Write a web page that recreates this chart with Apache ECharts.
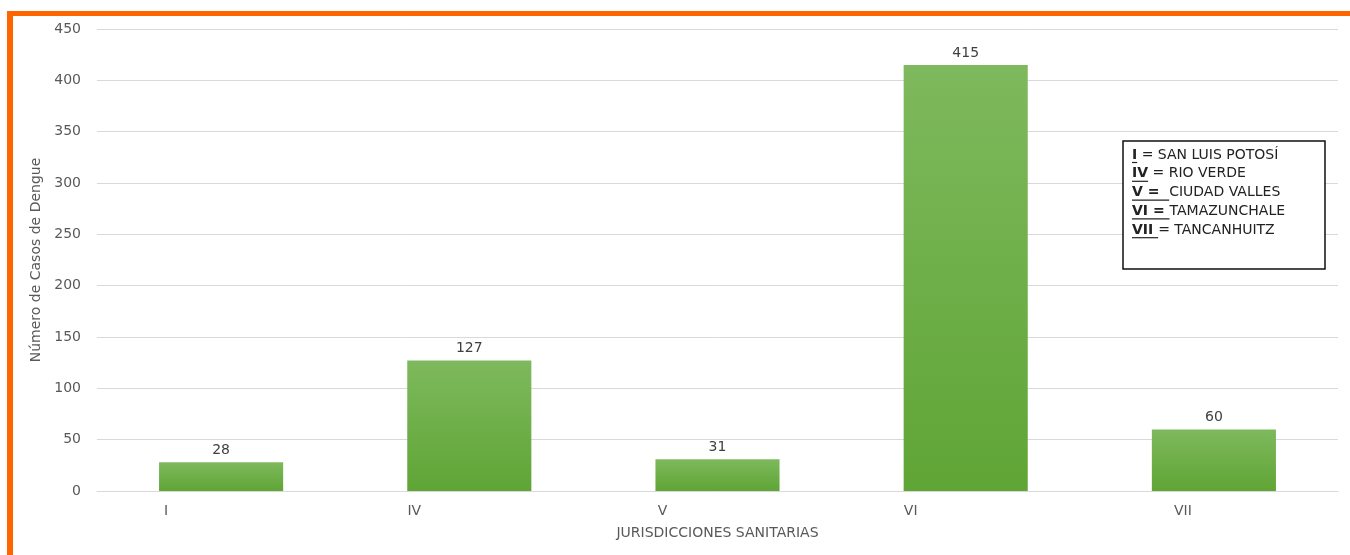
<!DOCTYPE html>
<html>
<head>
<meta charset="utf-8">
<script src="https://cdn.jsdelivr.net/npm/echarts@6/dist/echarts.min.js"></script>
<style>
  html, body { margin: 0; padding: 0; background: #ffffff; }
  #chart { width: 1350px; height: 555px; }
</style>
</head>
<body>
<div id="chart"></div>
<script>
// Jurisdicciones sanitarias and confirmed dengue cases
const jurisdicciones = ['I', 'IV', 'V', 'VI', 'VII'];
const casos = [28, 127, 31, 415, 60];
const yTicks = { min: 0, max: 450, interval: 50 };

// Key: underlined prefix + rest of the line
const claves = [
  ['I', ' = SAN LUIS POTOSÍ'],
  ['IV', ' = RIO VERDE'],
  ['V =  ', 'CIUDAD VALLES'],
  ['VI = ', 'TAMAZUNCHALE'],
  ['VII ', '= TANCANHUITZ']
];

const FONT = '"DejaVu Sans", "Liberation Sans", Arial, sans-serif';
const TXT = '#595959';
const FS = 14;

const chart = echarts.init(document.getElementById('chart'), null, { renderer: 'canvas' });

// measure text widths to place the underlines of the key
const mctx = document.createElement('canvas').getContext('2d');
function textWidth(str, weight) {
  mctx.font = (weight || 'normal') + ' ' + FS + 'px ' + FONT;
  return mctx.measureText(str).width;
}

const keyX = 1132;
const keyY0 = 155;
const keyStep = 18.8;
const keyElements = [{
  type: 'rect',
  shape: { x: 1123, y: 141, width: 202, height: 128 },
  style: { fill: '#ffffff', stroke: '#111111', lineWidth: 1.5 },
  z: 10
}];
claves.forEach(function (c, i) {
  const y = keyY0 + i * keyStep;
  const w1 = textWidth(c[0], 'bold');
  keyElements.push({
    type: 'text', x: keyX, y: y, z: 11,
    style: { text: c[0], font: 'bold ' + FS + 'px ' + FONT, fill: '#222222', textVerticalAlign: 'middle' }
  });
  keyElements.push({
    type: 'text', x: keyX + w1, y: y, z: 11,
    style: { text: c[1], font: FS + 'px ' + FONT, fill: '#222222', textVerticalAlign: 'middle' }
  });
  keyElements.push({
    type: 'line', z: 11,
    shape: { x1: keyX, y1: y + 7.5, x2: keyX + w1, y2: y + 7.5 },
    style: { stroke: '#222222', lineWidth: 1.2 }
  });
});

const option = {
  backgroundColor: '#ffffff',
  animation: false,
  grid: { left: 97, right: 12, top: 29, bottom: 64 },
  xAxis: {
    type: 'category',
    data: jurisdicciones,
    name: 'JURISDICCIONES SANITARIAS',
    nameLocation: 'middle',
    nameGap: 35,
    nameTextStyle: { color: TXT, fontSize: FS, fontFamily: FONT },
    axisLine: { show: true, lineStyle: { color: '#d9d9d9', width: 1 } },
    axisTick: { show: false },
    axisLabel: {
      color: TXT, fontSize: FS, fontFamily: FONT,
      margin: 13,
      align: 'center',
      padding: [0, 110, 0, 0],
      formatter: function (v) { return v === 'VII' ? '{r|' + v + '}' : v; },
      rich: { r: { color: TXT, fontSize: FS, fontFamily: FONT, padding: [0, 0, 0, 48] } }
    }
  },
  yAxis: {
    type: 'value',
    min: yTicks.min, max: yTicks.max, interval: yTicks.interval,
    name: 'Número de Casos de Dengue',
    nameLocation: 'middle',
    nameGap: 52,
    nameRotate: 90,
    nameTextStyle: { color: TXT, fontSize: FS, fontFamily: FONT },
    axisLine: { show: false },
    axisTick: { show: false },
    axisLabel: { color: TXT, fontSize: FS, fontFamily: FONT, margin: 16 },
    splitLine: { lineStyle: { color: '#d9d9d9', width: 1 } }
  },
  series: [{
    type: 'bar',
    data: casos,
    barWidth: '50%',
    itemStyle: {
      color: new echarts.graphic.LinearGradient(0, 0, 0, 1, [
        { offset: 0, color: '#7eb95d' },
        { offset: 1, color: '#5fa535' }
      ])
    },
    label: {
      show: true, position: 'top', distance: 5,
      color: '#404040', fontSize: FS, fontFamily: FONT
    }
  }],
  graphic: [
    // orange frame (top and left edges)
    { type: 'rect', shape: { x: 7, y: 11, width: 1343, height: 5 }, style: { fill: '#ff6600' }, z: 20 },
    { type: 'rect', shape: { x: 7, y: 11, width: 6, height: 544 }, style: { fill: '#ff6600' }, z: 20 },
    { type: 'group', children: keyElements }
  ]
};

chart.setOption(option);
</script>
</body>
</html>
